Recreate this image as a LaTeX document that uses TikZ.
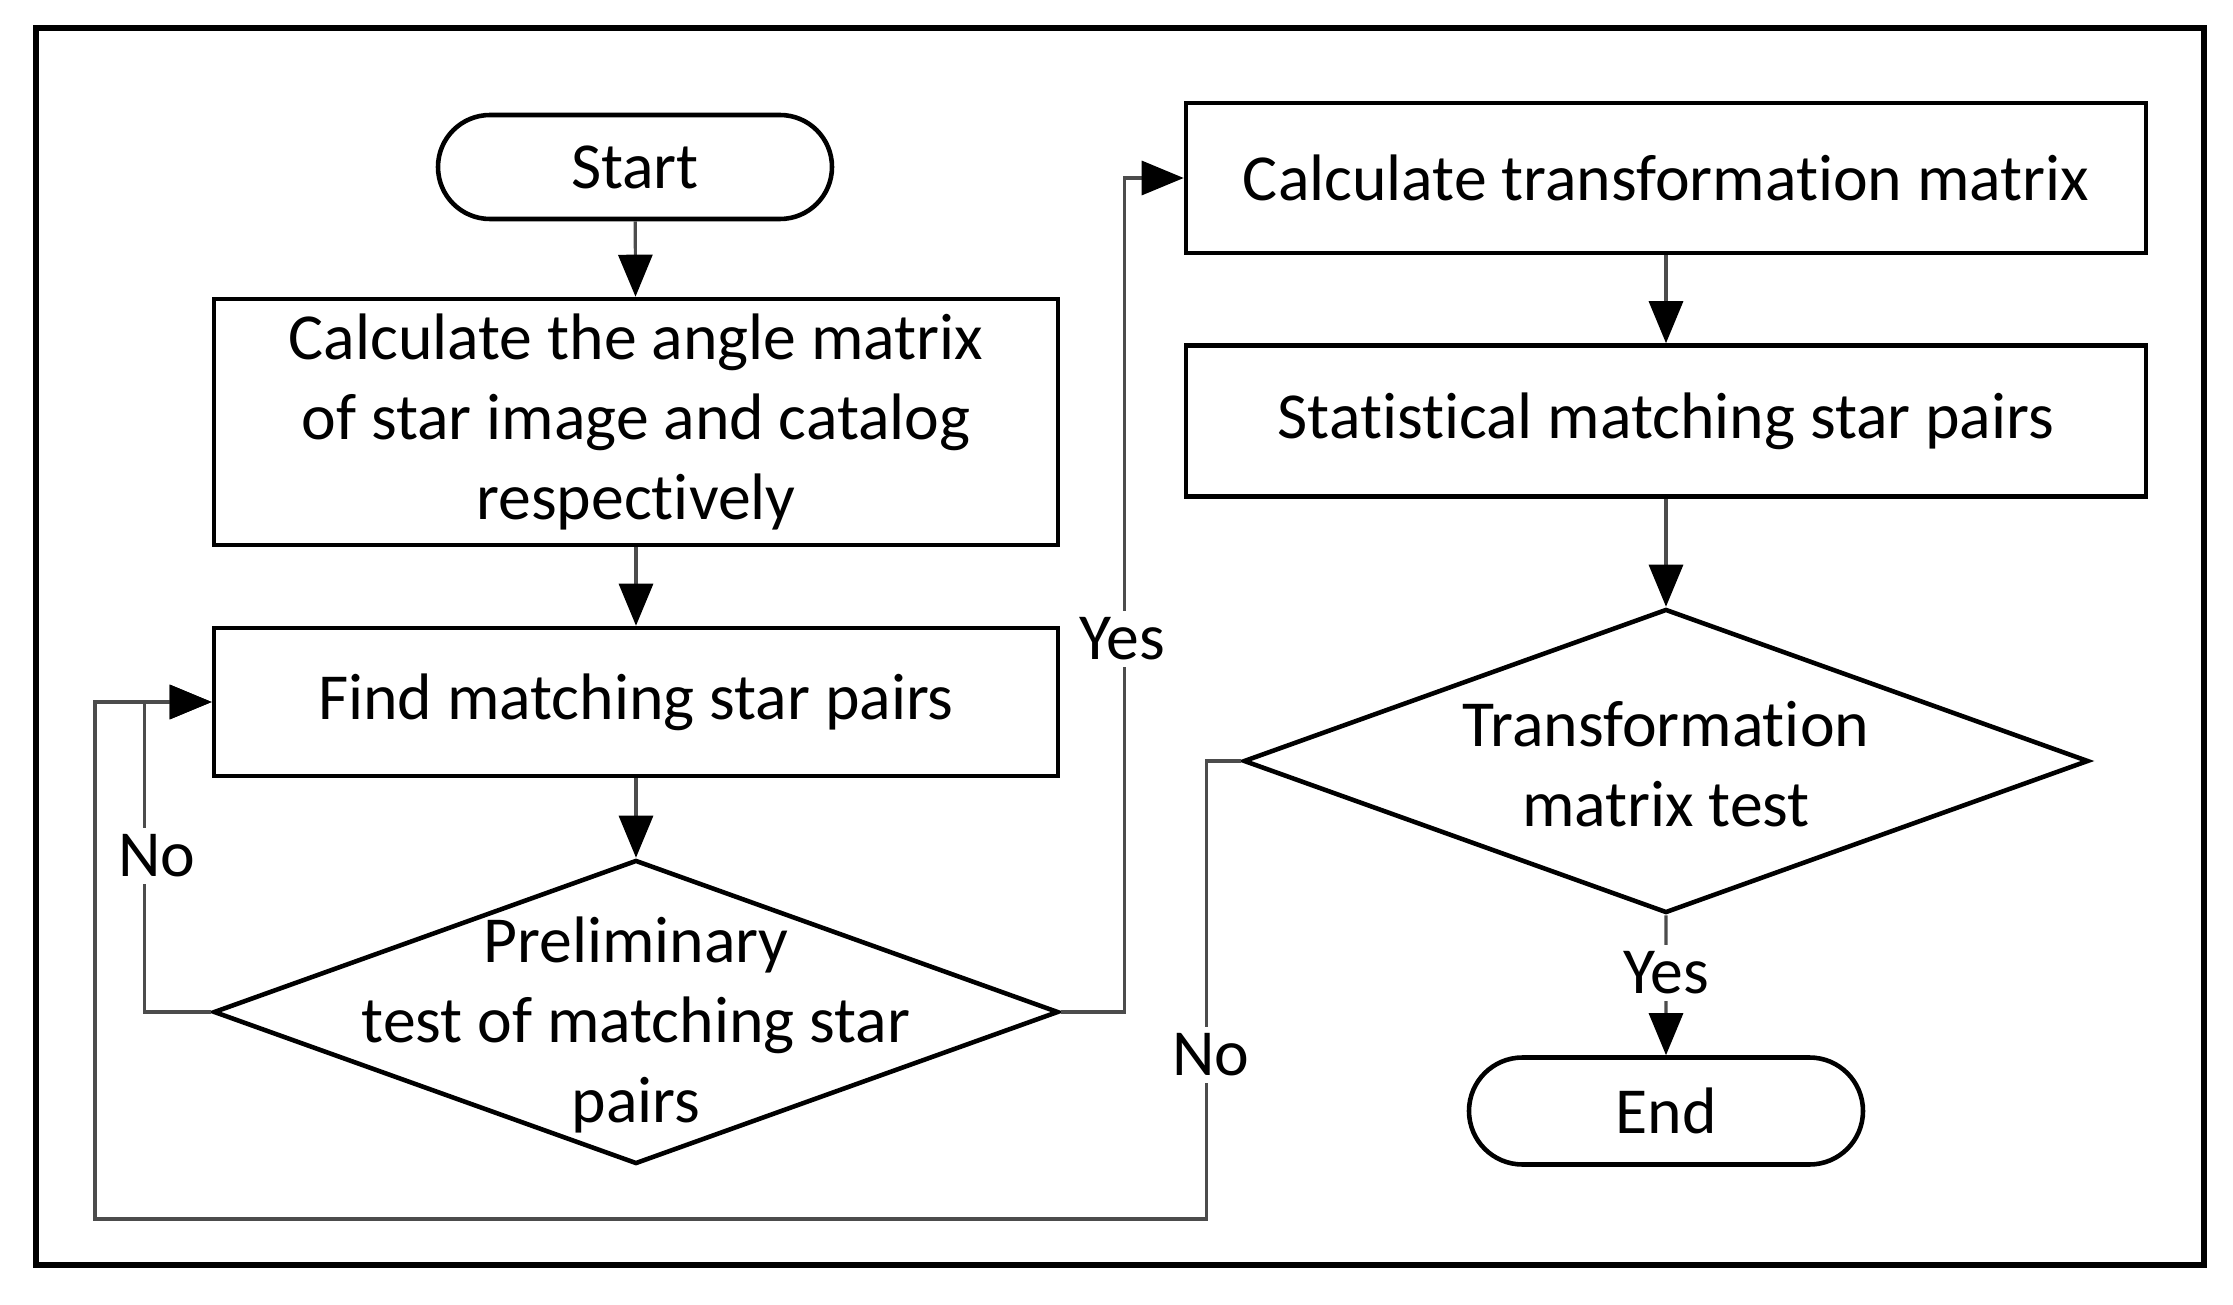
\documentclass[tikz,border=0pt]{standalone}
\usepackage{fontspec}
\setmainfont{Carlito}[Ligatures=NoCommon]
\usetikzlibrary{shapes.geometric,shapes.misc,arrows.meta}

\begin{document}
\begin{tikzpicture}[
	font=\fontsize{18.7}{22.8}\selectfont,
	process/.style={draw,line width=1.3pt,minimum width=8.44cm,align=center,inner sep=0pt},
	wide/.style={minimum width=9.60cm},
	terminal/.style={draw,rounded rectangle,line width=1.3pt,minimum width=3.94cm,minimum height=1.04cm,inner sep=0pt},
	decision/.style={draw,diamond,line width=1.3pt,minimum width=8.45cm,minimum height=3.04cm,inner sep=0pt},
	line/.style={draw=black!70,line width=0.9pt},
	arrow/.style={line,-{Triangle[length=0.42cm,width=0.34cm,black]}},
	answer/.style={fill=white,inner sep=2pt}]
	\useasboundingbox (0,0) rectangle (22.33,-13.05);
	% Frame
	\draw[line width=1.6pt] (0.36,-0.28) rectangle (22.04,-12.65);
	% Left column
	\node[terminal] (start) at (6.35,-1.67) {Start};
	\node[process,minimum height=2.46cm] (angle) at (6.36,-4.22)
		{Calculate the angle matrix\\of star image and catalog\\respectively};
	\node[process,minimum height=1.48cm] (find) at (6.36,-7.02) {Find matching star pairs};
	\node[decision] (pretest) at (6.36,-10.12) {};
	\node[align=center] (pretesttext) at (6.36,-10.25)
		{Preliminary\\test of matching star\\pairs};
	% Right column
	\node[process,wide,minimum height=1.50cm] (transform) at (16.66,-1.78)
		{Calculate transformation matrix};
	\node[process,wide,minimum height=1.51cm] (stat) at (16.66,-4.21)
		{Statistical matching star pairs};
	\node[decision] (mattest) at (16.66,-7.61) {};
	\node[align=center] (mattesttext) at (16.66,-7.64)
		{Transformation\\matrix test};
	\node[terminal,minimum height=1.07cm] (stop) at (16.66,-11.11) {End};
	% Connectors
	\coordinate (loopcorner) at (0.95,-12.19);
	\draw[arrow] (start) -- (angle);
	\draw[arrow] (angle) -- (find);
	\draw[arrow] (find) -- (pretest);
	\draw[arrow] (pretest.east) -- ++(0.64,0) |- (transform.west);
	\draw[arrow] (pretest.west) -- ++(-0.67,0) |- (find.west);
	\draw[arrow] (transform) -- (stat);
	\draw[arrow] (stat) -- (mattest);
	\draw[arrow] (mattest) -- (stop);
	\draw[arrow] (mattest.west) -- ++(-0.35,0) |- (loopcorner) |- (find.west);
	% Answers
	\node[answer] (yes1) at (11.22,-6.39) {Yes};
	\node[answer] (no1) at (1.57,-8.56) {No};
	\node[answer] (no2) at (12.11,-10.55) {No};
	\node[answer] (yes2) at (16.66,-9.73) {Yes};
\end{tikzpicture}
\end{document}
